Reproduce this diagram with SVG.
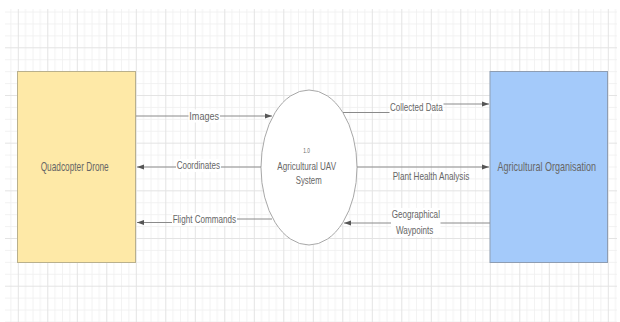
<svg xmlns="http://www.w3.org/2000/svg" width="620" height="322" viewBox="0 0 620 322">
<style>
.t{font-family:'Liberation Sans',Arial,sans-serif;fill:#666;text-anchor:middle}
.c{fill:none;stroke:#8a8a8a;stroke-width:1}
.bg{fill:#fff}
</style>
<defs>
<pattern id="grid" patternUnits="userSpaceOnUse" x="17.8" y="47.3" width="29.5" height="47.68">
<rect x="7.375" y="0" width="0.8" height="47.68" fill="#efefef"/>
<rect x="14.75" y="0" width="0.8" height="47.68" fill="#efefef"/>
<rect x="22.125" y="0" width="0.8" height="47.68" fill="#efefef"/>
<rect x="0" y="11.92" width="29.5" height="0.8" fill="#efefef"/>
<rect x="0" y="23.84" width="29.5" height="0.8" fill="#efefef"/>
<rect x="0" y="35.76" width="29.5" height="0.8" fill="#efefef"/>
<rect x="0" y="0" width="1" height="47.68" fill="#e3e3e3"/>
<rect x="0" y="0" width="29.5" height="1" fill="#e3e3e3"/>
</pattern>
<marker id="ah" markerUnits="userSpaceOnUse" markerWidth="8" markerHeight="6" refX="7" refY="3" orient="auto">
<path d="M0,0.5 L7,3 L0,5.5 Z" fill="#555"/>
</marker>
</defs>
<rect width="620" height="322" fill="#fff"/>
<rect x="5" y="9" width="612" height="313" fill="url(#grid)"/>

<g id="quadcopter-drone">
<rect x="17.5" y="71.5" width="118" height="191" fill="#fee9a7" stroke="#b9b08c" stroke-width="1"/>
<text class="t" transform="translate(74.7,170.5) scale(0.69,1)" x="0" y="0" font-size="12">Quadcopter Drone</text>
</g>

<g id="agricultural-organisation">
<rect x="490" y="71.5" width="117.5" height="191" fill="#a4cafa" stroke="#8e9db2" stroke-width="1"/>
<text class="t" transform="translate(546.8,170.5) scale(0.75,1)" x="0" y="0" font-size="12">Agricultural Organisation</text>
</g>

<g id="agricultural-uav-system">
<ellipse cx="309" cy="167.5" rx="48" ry="77.5" fill="#fff" stroke="#a8a8a8" stroke-width="1"/>
<text class="t" x="306.7" y="152.5" font-size="7" textLength="6.7" lengthAdjust="spacingAndGlyphs">1.0</text>
<text class="t" x="306.7" y="170" font-size="11" textLength="58.7" lengthAdjust="spacingAndGlyphs">Agricultural UAV</text>
<text class="t" x="308.7" y="184" font-size="11" textLength="26" lengthAdjust="spacingAndGlyphs">System</text>
</g>

<g id="connectors">
<path class="c" d="M136,116 H272" marker-end="url(#ah)"/>
<path class="c" d="M261,167 H137" marker-end="url(#ah)"/>
<path class="c" d="M272,219 H204 V222.5 H137" marker-end="url(#ah)"/>
<path class="c" d="M343,112.5 H416 V104 H489" marker-end="url(#ah)"/>
<path class="c" d="M357,167 H489" marker-end="url(#ah)"/>
<path class="c" d="M490,223 H344" marker-end="url(#ah)"/>

<rect class="bg" x="188.5" y="109.5" width="31.5" height="13"/>
<text class="t" x="204.2" y="120" font-size="11" textLength="29.7" lengthAdjust="spacingAndGlyphs">Images</text>
<rect class="bg" x="176" y="159" width="45" height="13"/>
<text class="t" x="198.3" y="169.3" font-size="11" textLength="43.3" lengthAdjust="spacingAndGlyphs">Coordinates</text>
<rect class="bg" x="172" y="213" width="65" height="13"/>
<text class="t" x="204.3" y="223" font-size="11" textLength="63.3" lengthAdjust="spacingAndGlyphs">Flight Commands</text>
<rect class="bg" x="389.5" y="100.5" width="54" height="13"/>
<text class="t" x="416.3" y="110.8" font-size="11" textLength="52.7" lengthAdjust="spacingAndGlyphs">Collected Data</text>
<text class="t" x="431" y="180" font-size="11" textLength="76.7" lengthAdjust="spacingAndGlyphs">Plant Health Analysis</text>
<rect class="bg" x="391" y="208" width="49.5" height="29"/>
<text class="t" x="415.8" y="218.3" font-size="11" textLength="48.3" lengthAdjust="spacingAndGlyphs">Geographical</text>
<text class="t" x="414.7" y="234" font-size="11" textLength="37.3" lengthAdjust="spacingAndGlyphs">Waypoints</text>
</g>
</svg>
